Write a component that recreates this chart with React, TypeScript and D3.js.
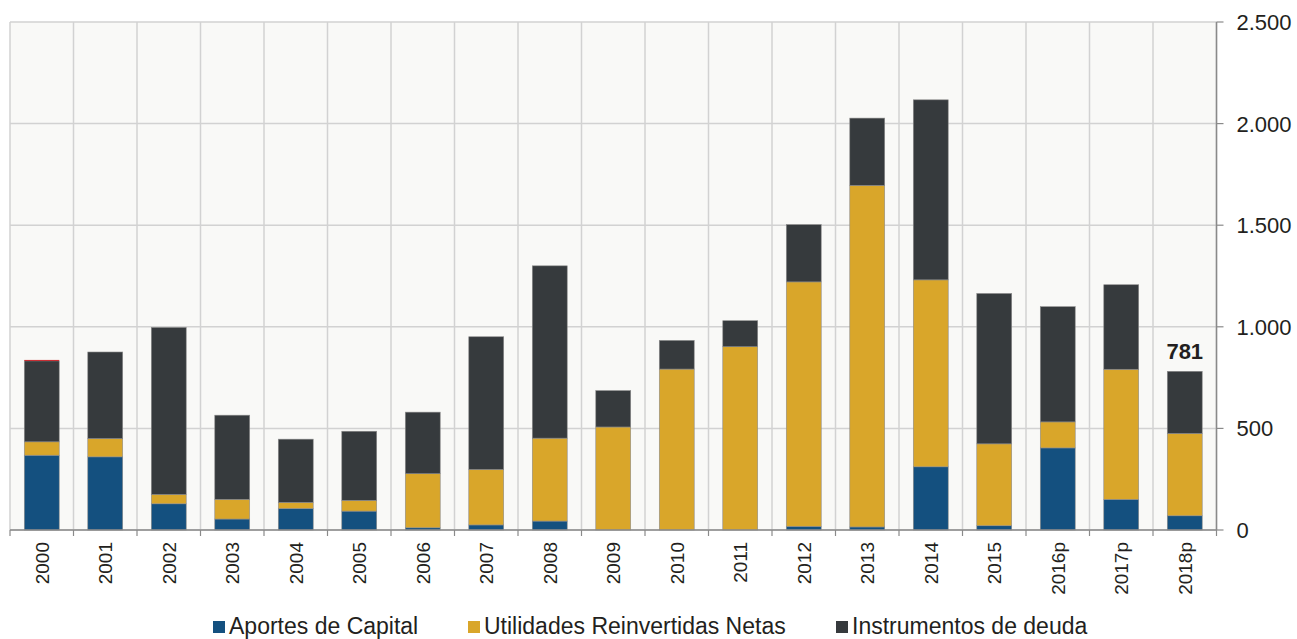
import React from "react";
import * as d3 from "d3";

// Inversión extranjera directa por componente (millones)
const years = ["2000","2001","2002","2003","2004","2005","2006","2007","2008","2009","2010","2011","2012","2013","2014","2015","2016p","2017p","2018p"];
const aportes = [368,360,129,54,106,93,11,25,44,0,0,0,18,15,311,21,404,151,70];
const utilidades = [66,90,46,97,30,53,266,273,408,507,792,902,1203,1681,920,403,128,640,405];
const deuda = [398,426,822,414,311,340,303,653,848,179,141,128,282,331,886,740,567,416,306];
const otros = [5,0,0,0,0,0,0,0,0,0,0,0,0,0,0,0,0,0,0];
const yTicks = [0, 500, 1000, 1500, 2000, 2500];
const labelYear = "2018p";

const seriesKeys = ["aportes", "utilidades", "deuda", "otros"];
const seriesNames = ["Aportes de Capital", "Utilidades Reinvertidas Netas", "Instrumentos de deuda"];
const colors: Record<string, string> = {
  aportes: "#14507f",
  utilidades: "#d9a62a",
  deuda: "#363a3d",
  otros: "#c8262c",
};

const W = 1297, H = 639;
const plot = { left: 10, right: 1216.5, top: 22, bottom: 530 };
const FONT = "'Liberation Sans', Arial, sans-serif";
const fmt = (v: number) => d3.format(",")(v).replace(/,/g, ".");

export default function App() {
  const rows = years.map((y, i) => ({
    year: y,
    aportes: aportes[i],
    utilidades: utilidades[i],
    deuda: deuda[i],
    otros: otros[i],
  }));
  const stacked = d3.stack<any>().keys(seriesKeys)(rows);

  const x = d3.scaleBand().domain(years).range([plot.left, plot.right]).paddingInner(0.45).paddingOuter(0.225);
  const xb = d3.scaleBand().domain(years).range([plot.left, plot.right]);
  const y = d3.scaleLinear().domain([0, 2500]).range([plot.bottom, plot.top]);

  const boundaries = years.map((yr) => xb(yr)!).concat([plot.right]);
  const labelIdx = years.indexOf(labelYear);
  const labelTotal = aportes[labelIdx] + utilidades[labelIdx] + deuda[labelIdx] + otros[labelIdx];

  const legendItems = [
    { key: "aportes", x: 213 },
    { key: "utilidades", x: 468 },
    { key: "deuda", x: 836 },
  ];

  return (
    <svg width={W} height={H} style={{ position: "absolute", left: 0, top: 0, background: "#ffffff" }} fontFamily={FONT}>
      <rect x={plot.left} y={plot.top} width={plot.right - plot.left} height={plot.bottom - plot.top} fill="#f9f9f7" />
      {yTicks.map((t) => (
        <line key={"g" + t} x1={plot.left} x2={plot.right} y1={y(t)} y2={y(t)} stroke="#d2d2d2" strokeWidth={1.5} />
      ))}
      {boundaries.map((bx, i) => (
        <line key={"v" + i} x1={bx} x2={bx} y1={plot.top} y2={plot.bottom} stroke="#d2d2d2" strokeWidth={1.5} />
      ))}
      {stacked.map((s) => (
        <g key={s.key} fill={colors[s.key]}>
          {s.map((d, i) => {
            const h = y(d[0]) - y(d[1]);
            if (h <= 0) return null;
            return (
              <rect
                key={i}
                x={x(years[i])}
                width={x.bandwidth()}
                y={y(d[1])}
                height={h}
                stroke={s.key === "otros" ? "none" : "#8c8c8c"}
                strokeWidth={0.6}
              />
            );
          })}
        </g>
      ))}
      {/* bottom axis */}
      <line x1={plot.left} x2={plot.right} y1={plot.bottom} y2={plot.bottom} stroke="#8a8a8a" strokeWidth={1.5} />
      {boundaries.map((bx, i) => (
        <line key={"bt" + i} x1={bx} x2={bx} y1={plot.bottom} y2={plot.bottom + 6} stroke="#8a8a8a" strokeWidth={1.2} />
      ))}
      {years.map((yr) => {
        const cx = xb(yr)! + xb.bandwidth() / 2;
        return (
          <text key={"xl" + yr} transform={`translate(${cx + 7},${plot.bottom + 12}) rotate(-90)`} textAnchor="end" fontSize={19} fill="#231f20">
            {yr}
          </text>
        );
      })}
      {/* right axis */}
      <line x1={plot.right} x2={plot.right} y1={plot.top} y2={plot.bottom} stroke="#8a8a8a" strokeWidth={1.5} />
      {yTicks.map((t) => (
        <g key={"yt" + t}>
          <line x1={plot.right} x2={plot.right + 7} y1={y(t)} y2={y(t)} stroke="#8a8a8a" strokeWidth={1.2} />
          <text x={plot.right + 20} y={y(t)} dy="0.36em" fontSize={22} fill="#231f20">
            {fmt(t)}
          </text>
        </g>
      ))}
      {/* total label */}
      <text
        x={x(labelYear)! + x.bandwidth() / 2}
        y={y(labelTotal) - 12}
        textAnchor="middle"
        fontSize={22}
        fontWeight="bold"
        fill="#231f20"
      >
        {labelTotal}
      </text>
      {/* legend */}
      {legendItems.map((it, i) => (
        <g key={it.key}>
          <rect x={it.x} y={621} width={12} height={12} fill={colors[it.key]} />
          <text x={it.x + 16} y={634} fontSize={23} fill="#231f20">
            {seriesNames[i]}
          </text>
        </g>
      ))}
    </svg>
  );
}
